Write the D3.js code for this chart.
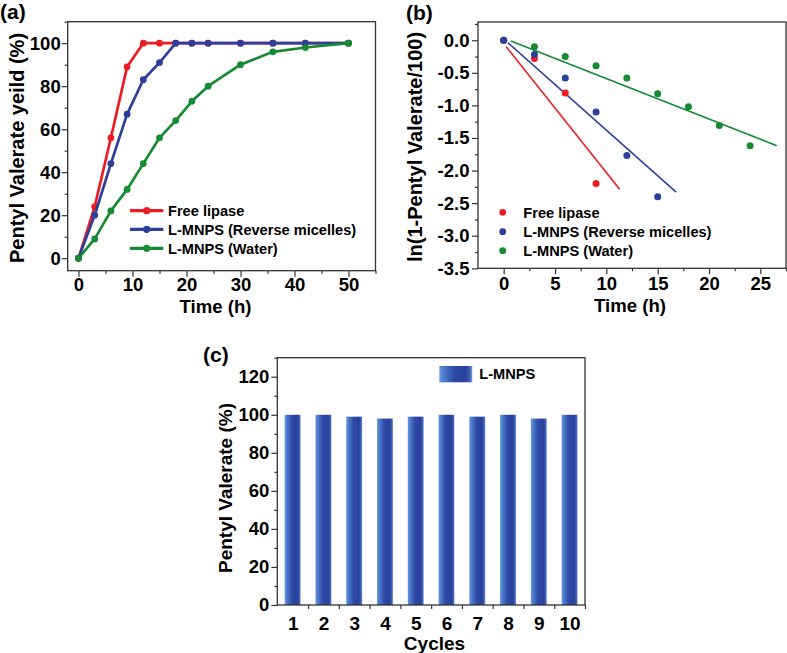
<!DOCTYPE html>
<html><head><meta charset="utf-8">
<script src="https://cdn.jsdelivr.net/npm/d3@7"></script>
<style>
html,body{margin:0;padding:0;background:#fff;}
svg{display:block;font-family:"Liberation Sans",Arial,sans-serif;font-weight:bold;}
</style></head>
<body>
<svg id="c" width="787" height="653"></svg>
<script>
// ---------- Data ----------
// (a) yield vs time
const timeA = [0, 3, 6, 9, 12, 15, 18, 21, 24, 30, 36, 42, 50];
const freeLipaseA = [0, 24, 56, 89, 100, 100, 100, 100, 100, 100, 100, 100, 100];
const reverseMicellesA = [0, 20, 44, 67, 83, 91, 100, 100, 100, 100, 100, 100, 100];
const waterA = [0, 9, 22, 32, 44, 56, 64, 73, 80, 90, 96, 98, 100];
const seriesNames = ["Free lipase", "L-MNPS (Reverse micelles)", "L-MNPS (Water)"];
const seriesColors = ["#ec1c24", "#2e3f9a", "#178a34"];

// (b) ln(1 - yield/100) vs time
const freeLipaseBx = [0, 3, 6, 9];
const freeLipaseBy = [0, -0.28, -0.81, -2.2];
const reverseMicellesBx = [0, 3, 6, 9, 12, 15];
const reverseMicellesBy = [0, -0.22, -0.58, -1.1, -1.77, -2.4];
const waterBx = [0, 3, 6, 9, 12, 15, 18, 21, 24];
const waterBy = [0, -0.1, -0.25, -0.39, -0.58, -0.82, -1.02, -1.31, -1.62];
// linear fits: [xStart, xEnd, slope, intercept]
const fitFree = [0.25, 11.3, -0.198, -0.05];
const fitReverse = [0.4, 16.8, -0.140, 0.02];
const fitWater = [0.7, 26.6, -0.062, 0.03];

// (c) reuse cycles
const cycles = [1, 2, 3, 4, 5, 6, 7, 8, 9, 10];
const cycleValues = [100, 100, 99, 98, 99, 100, 99, 100, 98, 100];
const barLegend = "L-MNPS";

// ---------- Drawing ----------
const svg = d3.select("#c");
const frameColor = "#333";
const FONT_TICK = "18.5px";

const defs = svg.append("defs");
const grad = defs.append("linearGradient").attr("id", "barGrad")
  .attr("x1", "0%").attr("x2", "100%").attr("y1", "0%").attr("y2", "0%");
[["0%", "#6d9be0"], ["12%", "#4f80cf"], ["45%", "#2e4aa6"], ["80%", "#2a409c"], ["94%", "#4066b8"], ["100%", "#8fb0e3"]]
  .forEach(([o, c]) => grad.append("stop").attr("offset", o).attr("stop-color", c));

function frame(g, x0, x1, y0, y1) {
  g.append("rect").attr("x", x0).attr("y", y0).attr("width", x1 - x0).attr("height", y1 - y0)
    .attr("fill", "none").attr("stroke", frameColor).attr("stroke-width", 1.3);
}
function styleAxis(sel) {
  sel.select(".domain").remove();
  sel.selectAll("line").attr("stroke", frameColor).attr("stroke-width", 1.2);
  sel.selectAll("text").attr("fill", "#000").style("font-size", FONT_TICK)
    .style("font-weight", "bold").style("font-family", '"Liberation Sans",Arial,sans-serif');
}
function drawAxes(g, x, y, xMajor, xMinor, yMajor, yMinor, yFmt, xPad, yPad) {
  const [r0] = x.range(); const yb = y.range()[0];
  g.append("g").attr("transform", `translate(0,${yb})`)
    .call(d3.axisBottom(x).tickValues(xMinor).tickSize(3).tickFormat("")).call(styleAxis);
  g.append("g").attr("transform", `translate(0,${yb})`)
    .call(d3.axisBottom(x).tickValues(xMajor).tickSize(6).tickPadding(xPad).tickFormat(d3.format("d"))).call(styleAxis);
  g.append("g").attr("transform", `translate(${r0},0)`)
    .call(d3.axisLeft(y).tickValues(yMinor).tickSize(3).tickFormat("")).call(styleAxis);
  g.append("g").attr("transform", `translate(${r0},0)`)
    .call(d3.axisLeft(y).tickValues(yMajor).tickSize(6).tickPadding(yPad).tickFormat(yFmt)).call(styleAxis);
}
function label(g, txt, x, y, size, rot) {
  const t = g.append("text").attr("text-anchor", "middle").style("font-size", size).attr("fill", "#000").text(txt);
  if (rot) t.attr("transform", `translate(${x},${y}) rotate(-90)`);
  else t.attr("x", x).attr("y", y);
  return t;
}

// ===== Panel (a) =====
{
  const g = svg.append("g");
  const x = d3.scaleLinear().domain([-2, 55]).range([67.7, 375.5]);
  const y = d3.scaleLinear().domain([-5.8, 110]).range([270.7, 21.7]);
  drawAxes(g, x, y, d3.range(0, 51, 10), d3.range(5, 56, 10), d3.range(0, 101, 20), d3.range(10, 111, 20),
    d3.format("d"), 1.5, 1);
  frame(g, 67.7, 375.5, 21.7, 270.7);
  const ys = [freeLipaseA, reverseMicellesA, waterA];
  const line = d3.line().x((d, i) => x(timeA[i])).y(d => y(d));
  ys.forEach((vals, k) => {
    g.append("path").attr("d", line(vals)).attr("fill", "none").attr("stroke", seriesColors[k])
      .attr("stroke-width", 2.7).attr("stroke-linejoin", "round");
    g.selectAll(null).data(vals).enter().append("circle")
      .attr("cx", (d, i) => x(timeA[i])).attr("cy", d => y(d)).attr("r", 3.4).attr("fill", seriesColors[k]);
  });
  // legend
  const ly = [210.7, 229.3, 248.3];
  seriesNames.forEach((n, k) => {
    g.append("line").attr("x1", 130).attr("x2", 163.3).attr("y1", ly[k]).attr("y2", ly[k])
      .attr("stroke", seriesColors[k]).attr("stroke-width", 3.2);
    g.append("circle").attr("cx", 146.7).attr("cy", ly[k]).attr("r", 3.6).attr("fill", seriesColors[k]);
    g.append("text").attr("x", 168).attr("y", ly[k] + 5.2).style("font-size", "14.6px").text(n);
  });
  label(g, "Time (h)", 215.5, 313.3, "18.6px");
  label(g, "Pentyl Valerate yeild (%)", 24, 148, "20px", true);
  g.append("text").attr("x", 0).attr("y", 18.5).style("font-size", "21px").text("(a)");
}

// ===== Panel (b) =====
{
  const g = svg.append("g");
  const x = d3.scaleLinear().domain([-2.5, 27.5]).range([478, 786]);
  const y = d3.scaleLinear().domain([-3.5, 0.28]).range([268.3, 22]);
  drawAxes(g, x, y, d3.range(0, 26, 5), d3.range(2.5, 28, 5), d3.range(-3.5, 0.01, 0.5), d3.range(-3.25, 0.3, 0.5),
    d => d.toFixed(1), 2.5, 2.5);
  frame(g, 478, 786, 22, 268.3);
  const fits = [fitFree, fitReverse, fitWater];
  fits.forEach((f, k) => {
    g.append("line").attr("x1", x(f[0])).attr("x2", x(f[1]))
      .attr("y1", y(f[2] * f[0] + f[3])).attr("y2", y(f[2] * f[1] + f[3]))
      .attr("stroke", seriesColors[k]).attr("stroke-width", 1.6);
  });
  const pts = [[freeLipaseBx, freeLipaseBy, 0], [waterBx, waterBy, 2], [reverseMicellesBx, reverseMicellesBy, 1]];
  pts.forEach(([xs, vs, k]) => {
    g.selectAll(null).data(vs).enter().append("circle")
      .attr("cx", (d, i) => x(xs[i])).attr("cy", d => y(d)).attr("r", 3.5).attr("fill", seriesColors[k]);
  });
  const ly = [212.3, 231.7, 250.7];
  seriesNames.forEach((n, k) => {
    g.append("circle").attr("cx", 502.7).attr("cy", ly[k]).attr("r", 3.4).attr("fill", seriesColors[k]);
    g.append("text").attr("x", 523.3).attr("y", ly[k] + 5.2).style("font-size", "14.6px").text(n);
  });
  label(g, "Time (h)", 630, 312, "18.6px");
  label(g, "ln(1-Pentyl Valerate/100)", 422, 147, "20px", true);
  g.append("text").attr("x", 406).attr("y", 19.5).style("font-size", "21px").text("(b)");
}

// ===== Panel (c) =====
{
  const g = svg.append("g");
  const x = d3.scaleLinear().domain([0.5, 10.5]).range([277.3, 585]);
  const y = d3.scaleLinear().domain([0, 130]).range([605, 357.7]);
  const halfW = 0.26;
  g.selectAll(null).data(cycleValues).enter().append("rect")
    .attr("x", (d, i) => x(cycles[i] - halfW)).attr("width", (d, i) => x(cycles[i] + halfW) - x(cycles[i] - halfW))
    .attr("y", d => y(d)).attr("height", d => y(0) - y(d)).attr("fill", "url(#barGrad)");
  // ticks between bars (no labels) and labels at bar centres
  const gx = g.append("g").attr("transform", `translate(0,${y(0)})`)
    .call(d3.axisBottom(x).tickValues(d3.range(1.5, 10.6, 1)).tickSize(4).tickFormat("")).call(styleAxis);
  const gl = g.append("g").attr("transform", `translate(0,${y(0)})`)
    .call(d3.axisBottom(x).tickValues(cycles).tickSize(0).tickPadding(11.5).tickFormat(d3.format("d"))).call(styleAxis);
  gl.selectAll("text").style("font-size", "19px");
  g.append("g").attr("transform", `translate(${x.range()[0]},0)`)
    .call(d3.axisLeft(y).tickValues(d3.range(10, 131, 20)).tickSize(3).tickFormat("")).call(styleAxis);
  g.append("g").attr("transform", `translate(${x.range()[0]},0)`)
    .call(d3.axisLeft(y).tickValues(d3.range(0, 121, 20)).tickSize(6).tickPadding(2).tickFormat(d3.format("d"))).call(styleAxis);
  frame(g, 277.3, 585, 357.7, 605);
  g.append("rect").attr("x", 439.3).attr("y", 366).attr("width", 33).attr("height", 16.3).attr("fill", "url(#barGrad)");
  g.append("text").attr("x", 479.3).attr("y", 379.2).style("font-size", "14.6px").text(barLegend);
  label(g, "Cycles", 434.5, 649.5, "19px");
  label(g, "Pentyl Valerate (%)", 232, 488, "19px", true);
  g.append("text").attr("x", 203).attr("y", 362).style("font-size", "21px").text("(c)");
}
</script>
</body></html>
